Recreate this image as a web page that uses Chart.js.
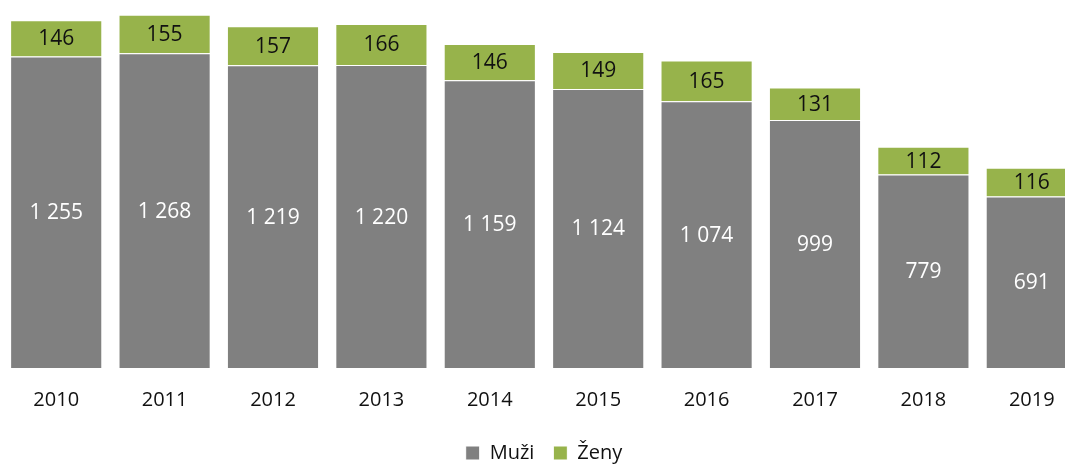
<!DOCTYPE html>
<html>
<head>
<meta charset="utf-8">
<script src="https://cdn.jsdelivr.net/npm/chart.js@4.4.1/dist/chart.umd.min.js"></script>
<style>
  html, body { margin: 0; padding: 0; background: #fff; overflow: hidden; }
  #wrap { width: 1090px; height: 473px; }
</style>
</head>
<body>
<div id="wrap"><canvas id="myChart"></canvas></div>
<script>
const years = ['2010', '2011', '2012', '2013', '2014', '2015', '2016', '2017', '2018', '2019'];
const muzi = [1255, 1268, 1219, 1220, 1159, 1124, 1074, 999, 779, 691];
const zeny = [146, 155, 157, 166, 146, 149, 165, 131, 112, 116];

const fontFamily = '"Open Sans", "Noto Sans", sans-serif';

// space as thousands separator, e.g. 1 255
function fmt(v) {
    return String(v).replace(/\B(?=(\d{3})+(?!\d))/g, ' ');
}

// write the value into the middle of every bar segment
const barLabels = {
    id: 'barLabels',
    afterDatasetsDraw(chart) {
        const ctx = chart.ctx;
        ctx.save();
        ctx.font = '21px ' + fontFamily;
        ctx.textAlign = 'center';
        ctx.textBaseline = 'middle';
        chart.data.datasets.forEach((ds, i) => {
            const meta = chart.getDatasetMeta(i);
            ctx.fillStyle = ds.labelColor;
            meta.data.forEach((bar, j) => {
                const mid = (bar.y + bar.base) / 2;
                ctx.fillText(fmt(ds.data[j]), bar.x, mid + 1);
            });
        });
        ctx.restore();
    }
};

const ctx = document.getElementById('myChart').getContext('2d');
new Chart(ctx, {
    type: 'bar',
    data: {
        labels: years,
        datasets: [
            {
                label: 'Muži',
                data: muzi,
                backgroundColor: '#808080',
                borderColor: '#ffffff',
                borderWidth: 1,
                labelColor: '#ffffff',
                barPercentage: 0.85,
                categoryPercentage: 1
            },
            {
                label: 'Ženy',
                data: zeny,
                backgroundColor: '#97b34b',
                borderColor: '#ffffff',
                borderWidth: 1,
                labelColor: '#111111',
                barPercentage: 0.85,
                categoryPercentage: 1
            }
        ]
    },
    options: {
        responsive: true,
        maintainAspectRatio: false,
        animation: false,
        layout: {
            padding: { left: 2, right: 4, top: 8, bottom: 0 }
        },
        scales: {
            x: {
                stacked: true,
                grid: { display: false },
                border: { display: false },
                ticks: {
                    color: '#111111',
                    font: { family: fontFamily, size: 20 },
                    padding: 12
                }
            },
            y: {
                stacked: true,
                display: false,
                min: 0,
                max: 1450
            }
        },
        plugins: {
            legend: {
                position: 'bottom',
                labels: {
                    color: '#111111',
                    font: { family: fontFamily, size: 20 },
                    boxWidth: 14,
                    boxHeight: 14,
                    padding: 19
                }
            },
            tooltip: { enabled: false }
        }
    },
    plugins: [barLabels]
});
</script>
</body>
</html>
